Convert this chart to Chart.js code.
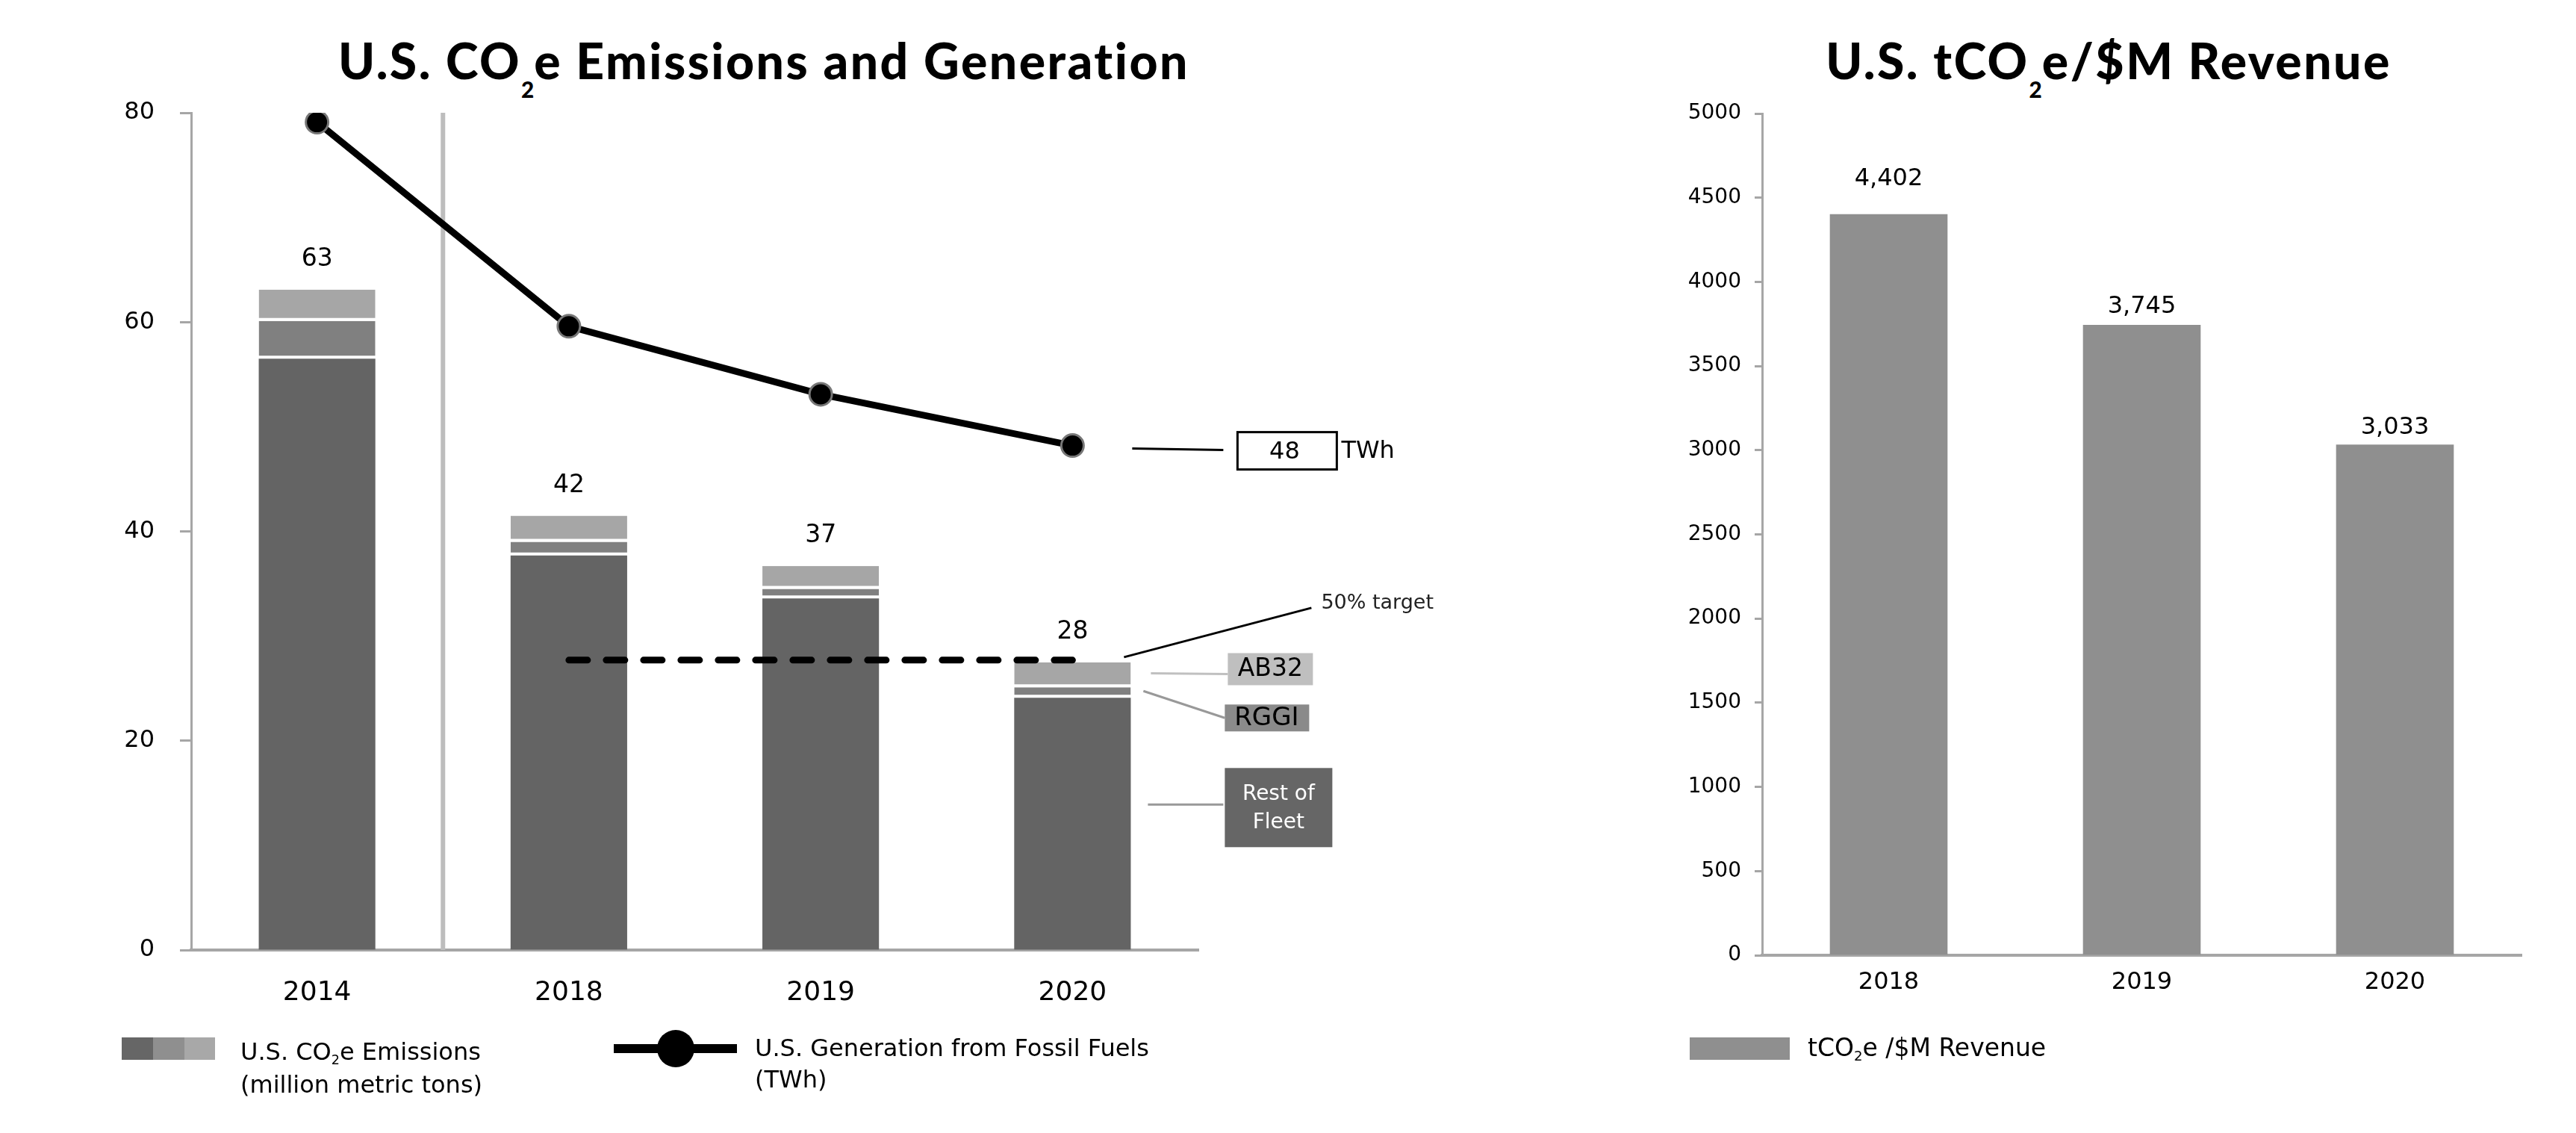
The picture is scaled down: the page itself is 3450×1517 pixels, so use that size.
<!DOCTYPE html>
<html>
<head>
<meta charset="utf-8">
<script src="https://cdn.jsdelivr.net/npm/chart.js@4.4.1/dist/chart.umd.min.js"></script>
<style>
  html, body { margin: 0; padding: 0; background: #fff; }
  body { width: 3450px; height: 1517px; position: relative; overflow: hidden; font-family: 'DejaVu Sans', sans-serif; }
  .title { position: absolute; top: 48px; width: 1200px; font-family: 'Lato', sans-serif; font-weight: 900; font-size: 66px; line-height: 66px; letter-spacing: 2.5px; text-align: center; color: #000; white-space: nowrap; }
  .title sub { font-size: 0.45em; vertical-align: -25px; line-height: 0; letter-spacing: 0; }
  canvas { position: absolute; top: 0; }
  .ltext { position: absolute; font-size: 32px; line-height: 44px; color: #000; white-space: nowrap; }
  .ltext sub { font-size: 0.55em; vertical-align: -0.35em; line-height: 0; }
  .box { position: absolute; }
</style>
</head>
<body>
<div class="title" style="left:423px;">U.S. CO<sub>2</sub>e Emissions and Generation</div>
<div class="title" style="left:2224px;">U.S. tCO<sub>2</sub>e/$M Revenue</div>

<canvas id="left" width="1950" height="1517" style="left:0;width:1950px;height:1517px;"></canvas>
<canvas id="right" width="1500" height="1517" style="left:1950px;width:1500px;height:1517px;"></canvas>

<!-- legends -->
<div class="box" style="left:163px;top:1389px;width:42px;height:30px;background:#666666;"></div>
<div class="box" style="left:205px;top:1389px;width:42px;height:30px;background:#8f8f8f;"></div>
<div class="box" style="left:247px;top:1389px;width:41px;height:30px;background:#a8a8a8;"></div>
<div class="ltext" style="left:322px;top:1386px;">U.S. CO<sub>2</sub>e Emissions<br>(million metric tons)</div>

<div class="box" style="left:822px;top:1398px;width:165px;height:12px;background:#000;"></div>
<div class="box" style="left:880px;top:1379px;width:50px;height:50px;border-radius:50%;background:#000;"></div>
<div class="ltext" style="left:1011px;top:1382px;line-height:42px;">U.S. Generation from Fossil Fuels<br>(TWh)</div>

<div class="box" style="left:2263px;top:1389px;width:134px;height:30px;background:#8f8f8f;"></div>
<div class="ltext" style="left:2421px;top:1381px;font-size:33px;">tCO<sub>2</sub>e /$M Revenue</div>

<script>
// emissions, million metric tons
const years = ['2014', '2018', '2019', '2020'];
const restOfFleet = [56.5, 37.7, 33.6, 24.1];
const rggi = [3.6, 1.3, 0.9, 1.0];
const ab32 = [3.0, 2.5, 2.2, 2.4];
// generation from fossil fuels, TWh
const fossilGen = [79.1, 59.6, 53.1, 48.2];
const target = [null, 27.7, 27.7, 27.7];
const leftTicks = [0, 20, 40, 60, 80];

// revenue intensity
const revYears = ['2018', '2019', '2020'];
const revIntensity = [4402, 3745, 3033];

Chart.defaults.font.family = "'DejaVu Sans', sans-serif";
Chart.defaults.color = '#000';

const AXIS = '#a6a6a6';

// grey line between 2014 and the recent years
const separator = {
    id: 'separator',
    beforeDatasetsDraw(chart) {
        const x = chart.scales.x;
        const px = (x.getPixelForValue(0) + x.getPixelForValue(1)) / 2;
        const ctx = chart.ctx;
        ctx.save();
        ctx.strokeStyle = '#bdbdbd';
        ctx.lineWidth = 6;
        ctx.beginPath();
        ctx.moveTo(px, chart.chartArea.top);
        ctx.lineTo(px, chart.chartArea.bottom);
        ctx.stroke();
        ctx.restore();
    }
};

function line(ctx, x1, y1, x2, y2, color, w) {
    ctx.strokeStyle = color;
    ctx.lineWidth = w;
    ctx.beginPath();
    ctx.moveTo(x1, y1);
    ctx.lineTo(x2, y2);
    ctx.stroke();
}

const leftLabels = {
    id: 'leftLabels',
    afterDatasetsDraw(chart) {
        const ctx = chart.ctx;
        const xs = chart.scales.x, ys = chart.scales.y;
        ctx.save();
        ctx.textAlign = 'center';
        ctx.textBaseline = 'middle';
        ctx.fillStyle = '#000';
        ctx.font = "33px 'DejaVu Sans'";
        years.forEach((y, i) => {
            const total = restOfFleet[i] + rggi[i] + ab32[i];
            ctx.fillText(String(Math.round(total + 1e-9)), xs.getPixelForValue(i), ys.getPixelForValue(total) - 40);
        });

        // callouts on the last year
        const last = years.length - 1;
        const xl = xs.getPixelForValue(last);
        const py = ys.getPixelForValue(fossilGen[last]);
        line(ctx, xl + 80, py + 4, xl + 202, py + 6, '#000', 3);
        ctx.lineWidth = 3;
        ctx.strokeRect(xl + 221, py - 18, 133, 50);
        ctx.font = "32px 'DejaVu Sans'";
        ctx.fillText(String(Math.round(fossilGen[last])), xl + 284, py + 9);
        ctx.textAlign = 'left';
        ctx.fillText('TWh', xl + 360, py + 8);

        const ty = ys.getPixelForValue(target[last]);
        line(ctx, xl + 69, ty - 4, xl + 320, ty - 70, '#000', 3);
        ctx.font = "27px 'DejaVu Sans'";
        ctx.fillStyle = '#222';
        ctx.fillText('50% target', xl + 333, ty - 76);

        const yA = ys.getPixelForValue(restOfFleet[last] + rggi[last] + ab32[last] / 2);
        line(ctx, xl + 105, yA - 2, xl + 208, yA - 1, '#c0c0c0', 3);
        ctx.fillStyle = '#bfbfbf';
        ctx.fillRect(xl + 208, yA - 29, 114, 43);
        ctx.fillStyle = '#000';
        ctx.font = "33px 'DejaVu Sans'";
        ctx.textAlign = 'center';
        ctx.fillText('AB32', xl + 265, yA - 7);

        const yR = ys.getPixelForValue(restOfFleet[last] + rggi[last] / 2);
        line(ctx, xl + 95, yR - 2, xl + 204, yR + 34, '#999', 3);
        ctx.fillStyle = '#8a8a8a';
        ctx.fillRect(xl + 204, yR + 16, 113, 36);
        ctx.fillStyle = '#000';
        ctx.font = "34px 'DejaVu Sans'";
        ctx.fillText('RGGI', xl + 260, yR + 35);

        const yF = ys.getPixelForValue(restOfFleet[last]) + 143;
        line(ctx, xl + 101, yF, xl + 202, yF, '#999', 3);
        ctx.fillStyle = '#666666';
        ctx.fillRect(xl + 204, yF - 49, 144, 106);
        ctx.fillStyle = '#fff';
        ctx.font = "28px 'DejaVu Sans'";
        ctx.fillText('Rest of', xl + 276, yF - 14);
        ctx.fillText('Fleet', xl + 276, yF + 24);
        ctx.restore();
    }
};

const gap = { top: 0, right: 0, bottom: 4, left: 0 };

new Chart(document.getElementById('left'), {
    type: 'bar',
    data: {
        labels: years,
        datasets: [
            { label: 'U.S. Generation from Fossil Fuels (TWh)', type: 'line', data: fossilGen, yAxisID: 'y2', order: 0,
              borderColor: '#000', borderWidth: 9, pointRadius: 15, pointHoverRadius: 15,
              pointBackgroundColor: '#000', pointBorderColor: '#777', pointBorderWidth: 3 },
            { label: '50% target', type: 'line', data: target, yAxisID: 'y2', order: 0,
              borderColor: '#000', borderWidth: 9, borderDash: [25, 25], borderCapStyle: 'round', pointRadius: 0 },
            { label: 'Rest of Fleet', data: restOfFleet, backgroundColor: '#646464', borderWidth: 0, order: 1 },
            { label: 'RGGI', data: rggi, backgroundColor: '#808080', borderColor: '#fff', borderWidth: gap, borderSkipped: false, order: 1 },
            { label: 'AB32', data: ab32, backgroundColor: '#a6a6a6', borderColor: '#fff', borderWidth: gap, borderSkipped: false, order: 1 }
        ]
    },
    options: {
        responsive: false,
        devicePixelRatio: 1,
        animation: false,
        layout: { padding: { top: 151, right: 345, left: 0, bottom: 0 } },
        datasets: { bar: { barPercentage: 0.463, categoryPercentage: 1 } },
        plugins: { legend: { display: false }, tooltip: { enabled: false } },
        scales: {
            x: {
                stacked: true,
                grid: { display: false, drawTicks: false },
                border: { display: true, color: AXIS, width: 4 },
                ticks: { font: { size: 36 }, padding: 36 },
                afterFit: s => { s.height = 1517 - 1272; }
            },
            y: {
                stacked: true, min: 0, max: 80,
                afterBuildTicks: s => { s.ticks = leftTicks.map(v => ({ value: v })); },
                grid: { drawOnChartArea: false, drawTicks: true, tickLength: 15, tickColor: AXIS, tickWidth: 3 },
                border: { display: true, color: AXIS, width: 3 },
                ticks: { font: { size: 32 }, padding: 34 },
                afterFit: s => { s.width = 256; }
            },
            y2: { display: false, min: 0, max: 80 }
        }
    },
    plugins: [separator, leftLabels]
});

const rightLabels = {
    id: 'rightLabels',
    afterDatasetsDraw(chart) {
        const ctx = chart.ctx;
        const xs = chart.scales.x, ys = chart.scales.y;
        const lift = [47, 24, 23];
        ctx.save();
        ctx.textAlign = 'center';
        ctx.textBaseline = 'middle';
        ctx.fillStyle = '#000';
        ctx.font = "32px 'DejaVu Sans'";
        revIntensity.forEach((v, i) => {
            ctx.fillText(v.toLocaleString('en-US'), xs.getPixelForValue(i), ys.getPixelForValue(v) - lift[i]);
        });
        ctx.restore();
    }
};

new Chart(document.getElementById('right'), {
    type: 'bar',
    data: {
        labels: revYears,
        datasets: [{ label: 'tCO2e /$M Revenue', data: revIntensity, backgroundColor: '#8f8f8f', borderWidth: 0,
                     barPercentage: 0.465, categoryPercentage: 1 }]
    },
    options: {
        responsive: false,
        devicePixelRatio: 1,
        animation: false,
        layout: { padding: { top: 152, right: 73, left: 0, bottom: 0 } },
        plugins: { legend: { display: false }, tooltip: { enabled: false } },
        scales: {
            x: {
                grid: { display: false, drawTicks: false },
                border: { display: true, color: AXIS, width: 4 },
                ticks: { font: { size: 32 }, padding: 17 },
                afterFit: s => { s.height = 1517 - 1279; }
            },
            y: {
                min: 0, max: 5000,
                ticks: { stepSize: 500, font: { size: 28 }, padding: 18, callback: v => String(v) },
                grid: { drawOnChartArea: false, drawTicks: true, tickLength: 10, tickColor: AXIS, tickWidth: 3 },
                border: { display: true, color: AXIS, width: 3 },
                afterFit: s => { s.width = 410; }
            }
        }
    },
    plugins: [rightLabels]
});
</script>
</body>
</html>
